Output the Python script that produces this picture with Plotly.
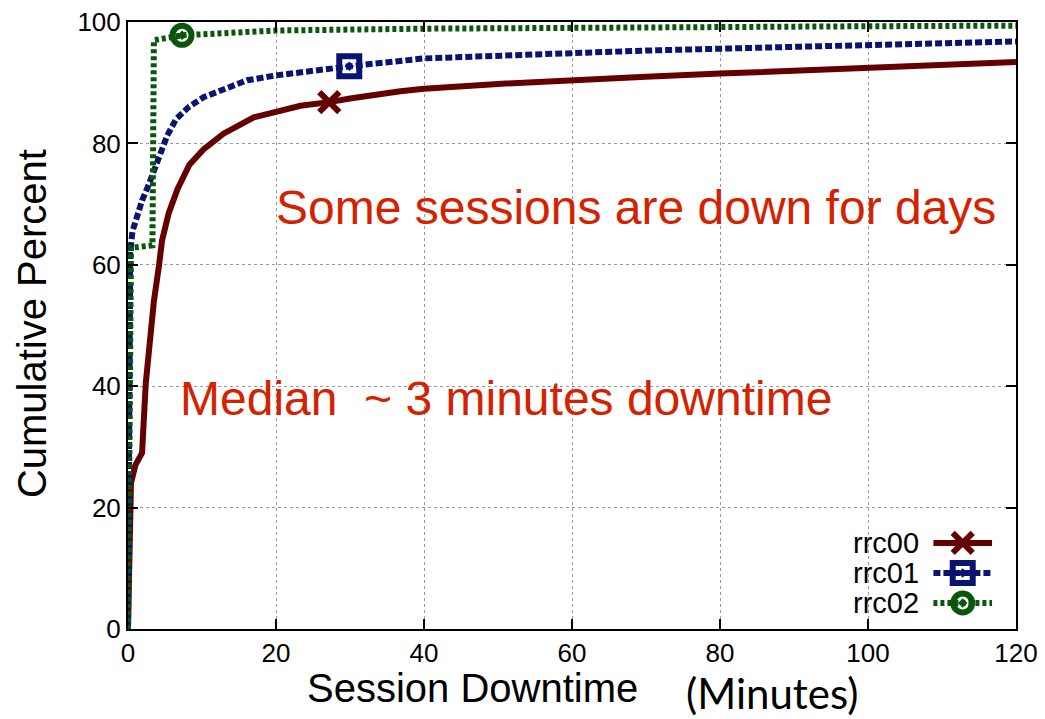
import plotly.graph_objects as go

# ---------------- data ----------------
rrc00_x = [0, 0.2, 0.4, 1.0, 1.9, 2.4, 3.0, 3.5, 4.2, 4.6, 5.5, 6.7, 8.3, 10.2, 12.9,
           15.2, 17.0, 20.0, 23.3, 27.2, 30.0, 36.8, 40, 50, 60, 70, 80, 90, 100, 110, 120]
rrc00_y = [0, 15, 24, 27, 29, 40.5, 48, 54, 60, 64, 68.5, 72.5, 76.5, 79, 81.6,
           83.2, 84.3, 85.2, 86.2, 86.8, 87.4, 88.6, 89.0, 89.8, 90.5, 91.0, 91.5, 92.0, 92.6, 93.0, 93.4]
rrc00_mark = 19

rrc01_x = [0, 0.3, 0.6, 1.2, 1.9, 2.8, 3.7, 4.5, 5.3, 6.5, 8.2, 10.2, 12.9, 16.1,
           20, 25, 29.9, 40, 50, 60, 70, 80, 90, 100, 110, 120]
rrc01_y = [0, 62, 65.5, 68.2, 70.6, 73.2, 76.1, 78.5, 81.3, 84, 86, 87.6, 89, 90.4,
           91.2, 92.0, 92.7, 94.0, 94.5, 94.9, 95.3, 95.6, 95.9, 96.1, 96.4, 96.8]
rrc01_mark = 16

rrc02_x = [0, 0.4, 3.3, 3.5, 7.3, 20, 40, 60, 80, 100, 120]
rrc02_y = [0, 62.8, 63.2, 97.0, 97.8, 98.6, 98.9, 99.1, 99.2, 99.3, 99.4]
rrc02_mark = 4

series_names = ["rrc00", "rrc01", "rrc02"]
x_ticks = [0, 20, 40, 60, 80, 100, 120]
y_ticks = [0, 20, 40, 60, 80, 100]

# ---------------- styles ----------------
C_RED = "#650000"
C_BLUE = "#0a1470"
C_GREEN = "#0a560a"
C_TEXT = "#d42200"
FONT = "Liberation Sans, Arial, sans-serif"

styles = [
    dict(color=C_RED, dash="solid", symbol="x-thin", msize=20, mline=6),
    dict(color=C_BLUE, dash="7px,3px", symbol="square-open-dot", msize=20, mline=6),
    dict(color=C_GREEN, dash="4px,3px", symbol="circle-open-dot", msize=19, mline=6),
]
data = [(rrc00_x, rrc00_y, rrc00_mark), (rrc01_x, rrc01_y, rrc01_mark), (rrc02_x, rrc02_y, rrc02_mark)]

fig = go.Figure()

for (xs, ys, mi), st, name in zip(data, styles, series_names):
    fig.add_trace(go.Scatter(
        x=xs, y=ys, mode="lines", name=name, showlegend=False,
        line=dict(color=st["color"], width=6, dash=st["dash"]),
    ))
    fig.add_trace(go.Scatter(
        x=[xs[mi]], y=[ys[mi]], mode="markers", showlegend=False,
        marker=dict(symbol=st["symbol"], size=st["msize"], color=st["color"],
                    line=dict(color=st["color"], width=st["mline"])),
    ))

# ---------------- custom legend (text left, sample right) ----------------
leg_y = [0.1417, 0.0923, 0.0428]
for st, name, ly in zip(styles, series_names, leg_y):
    fig.add_trace(go.Scatter(
        x=[0.907, 0.973], y=[ly, ly], xaxis="x2", yaxis="y2", mode="lines",
        showlegend=False, hoverinfo="skip",
        line=dict(color=st["color"], width=6, dash=st["dash"]),
    ))
    fig.add_trace(go.Scatter(
        x=[0.940], y=[ly], xaxis="x2", yaxis="y2", mode="markers",
        showlegend=False, hoverinfo="skip",
        marker=dict(symbol=st["symbol"], size=st["msize"], color=st["color"],
                    line=dict(color=st["color"], width=st["mline"])),
    ))
    fig.add_annotation(x=0.893, y=ly, xref="paper", yref="paper", text=name,
                       showarrow=False, xanchor="right", yanchor="middle",
                       font=dict(family=FONT, size=29, color="black"))

axis_common = dict(
    showline=True, linewidth=2, linecolor="black", mirror="ticks",
    ticks="inside", ticklen=10, tickwidth=2, tickcolor="black",
    showgrid=True, gridcolor="#9a9a9a", gridwidth=1, griddash="dot",
    zeroline=False, automargin=False,
    tickfont=dict(family=FONT, size=26, color="black"),
)

fig.update_layout(
    width=1045, height=719,
    margin=dict(l=128, r=29, t=22, b=90),
    paper_bgcolor="white", plot_bgcolor="white",
    xaxis=dict(range=[0, 120], tickvals=x_ticks, **axis_common),
    yaxis=dict(range=[0, 100], tickvals=y_ticks, **axis_common),
    xaxis2=dict(range=[0, 1], overlaying="x", visible=False, automargin=False),
    yaxis2=dict(range=[0, 1], overlaying="y", visible=False, automargin=False),
    showlegend=False,
)

# ---------------- texts ----------------
fig.add_annotation(x=0.3885, y=-0.097, xref="paper", yref="paper", text="Session Downtime",
                   showarrow=False, xanchor="center", yanchor="middle",
                   font=dict(family=FONT, size=40, color="black"))
fig.add_annotation(x=0.725, y=-0.106, xref="paper", yref="paper", text="(Minutes)",
                   showarrow=False, xanchor="center", yanchor="middle",
                   font=dict(family="Lato, Carlito, sans-serif", size=42, color="black"))
fig.add_annotation(x=-0.108, y=0.5025, xref="paper", yref="paper", text="Cumulative Percent",
                   showarrow=False, xanchor="center", yanchor="middle", textangle=-90,
                   font=dict(family=FONT, size=40, color="black"))
fig.add_annotation(x=19.7, y=69.5, xref="x", yref="y", text="Some sessions are down for days",
                   showarrow=False, xanchor="left", yanchor="middle",
                   font=dict(family=FONT, size=48, color=C_TEXT))
fig.add_annotation(x=6.8, y=38.0, xref="x", yref="y", text="Median\u00a0\u00a0~ 3 minutes downtime",
                   showarrow=False, xanchor="left", yanchor="middle",
                   font=dict(family=FONT, size=48, color=C_TEXT))

fig.write_html("out.html",
               config={"displayModeBar": False},
               post_script="document.body.style.margin='0px';document.body.style.overflow='hidden';")
